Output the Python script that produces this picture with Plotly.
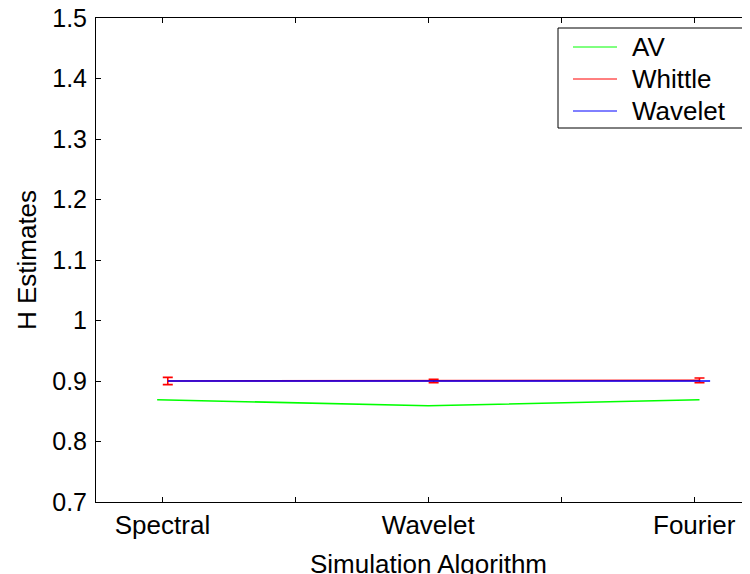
import plotly.graph_objects as go

categories = ["Spectral", "Wavelet", "Fourier"]
tick_positions = [1, 1.5, 2, 2.5, 3]
tick_labels = ["Spectral", "", "Wavelet", "", "Fourier"]
series_names = ["AV", "Whittle", "Wavelet"]
series_colors = ["#00ff00", "#ff0000", "#0000ff"]

av_x = [0.98, 2.0, 3.02]
av_y = [0.869, 0.859, 0.869]

whittle_x = [1.02, 2.02, 3.02]
whittle_y = [0.900, 0.900, 0.901]
whittle_err = [0.006, 0.003, 0.004]

wavelet_x = [1.02, 2.04, 3.06]
wavelet_y = [0.900, 0.900, 0.900]

FONT = "Liberation Sans, Arial, sans-serif"
FS = 26
FS_Y = 25

# page offset (body margin) and target plot-area pixel geometry in page coords
OFF = 8
W, H = 750 - OFF, 574 - OFF
L, R, T, B = 96, 750, 18, 502
def px(x):
    return (x - L) / (R - L)
def py(y):
    return (B - y) / (B - T)

fig = go.Figure()
fig.add_trace(go.Scatter(x=av_x, y=av_y, mode="lines", name=series_names[0],
                         line=dict(color=series_colors[0], width=1.6)))
fig.add_trace(go.Scatter(x=whittle_x, y=whittle_y, mode="lines", name=series_names[1],
                         line=dict(color=series_colors[1], width=1.6),
                         error_y=dict(type="data", array=whittle_err, visible=True,
                                      color=series_colors[1], thickness=1.6, width=5)))
fig.add_trace(go.Scatter(x=wavelet_x, y=wavelet_y, mode="lines", name=series_names[2],
                         line=dict(color=series_colors[2], width=1.6)))

shapes = [dict(type="rect", xref="paper", yref="paper",
               x0=px(558), x1=px(743), y0=py(128), y1=py(28),
               line=dict(color="black", width=1), fillcolor="white", layer="above")]
annotations = []
rows = [47, 79, 111]
for name, color, ry in zip(series_names, series_colors, rows):
    shapes.append(dict(type="line", xref="paper", yref="paper",
                       x0=px(573), x1=px(617), y0=py(ry), y1=py(ry),
                       line=dict(color=color, width=1), layer="above"))
    annotations.append(dict(text=name, xref="paper", yref="paper",
                            x=px(630), y=py(ry), xanchor="left", yanchor="middle",
                            showarrow=False, font=dict(family=FONT, size=FS)))

annotations.append(dict(text="Simulation Algorithm", xref="paper", yref="paper",
                        x=px(429), y=0, yshift=-62, xanchor="center", yanchor="middle",
                        showarrow=False, font=dict(family=FONT, size=FS)))

fig.update_layout(
    width=W, height=H,
    margin=dict(l=L - OFF, r=(750 - R), t=T - OFF, b=574 - B, autoexpand=False),
    paper_bgcolor="white", plot_bgcolor="white",
    font=dict(family=FONT, size=FS, color="black"),
    showlegend=False,
    xaxis=dict(range=[0.75, 3.21], tickvals=tick_positions, ticktext=tick_labels,
               automargin=False,
               showgrid=False, zeroline=False, showline=True, linecolor="black",
               linewidth=1, mirror="ticks", ticks="inside", ticklen=5,
               tickcolor="black", tickfont=dict(family=FONT, size=FS)),
    yaxis=dict(range=[0.7, 1.5], dtick=0.1, tick0=0.7, automargin=False,
               ticklabeloverflow="allow", ticklabelstandoff=3,
               showgrid=False, zeroline=False, showline=True, linecolor="black",
               linewidth=1, ticks="inside", ticklen=5, tickcolor="black",
               tickfont=dict(family=FONT, size=FS_Y),
               title=dict(text="H Estimates", font=dict(family=FONT, size=FS), standoff=8)),
    shapes=shapes,
    annotations=annotations,
)

fig.write_html("out.html")
